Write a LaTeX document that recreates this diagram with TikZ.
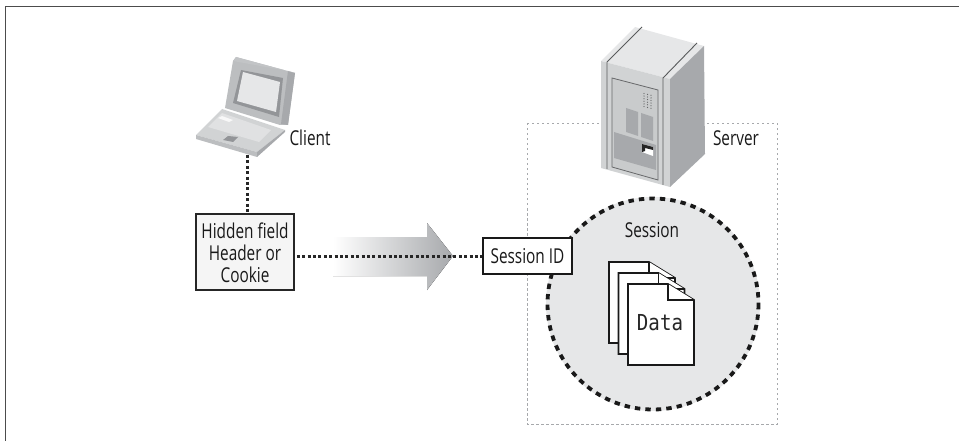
\documentclass[tikz,border=0pt]{standalone}
\usepackage{fontspec}
\setmainfont[FakeStretch=0.75]{Open Sans}
\newfontfamily\datafont[FakeStretch=0.87]{DejaVu Sans Mono}
\begin{document}
\begin{tikzpicture}[x=1pt,y=-1pt,
  lbl/.style={inner sep=0pt,font=\fontsize{20.5}{22}\selectfont,align=center,text=black!90},
  databl/.style={inner sep=0pt,font=\datafont\fontsize{22}{22}\selectfont,text=black!85},
  boxa/.style={draw=black!85,line width=1.6pt,fill=black!4,minimum width=98pt,minimum height=76pt,inner sep=0pt},
  boxb/.style={draw=black!90,line width=2.2pt,fill=white,minimum width=89pt,minimum height=36pt,inner sep=0pt},
  dots/.style={line width=3pt,black!85,dash pattern=on 3pt off 2.4pt},
  docpage/.style={draw=black!90,line width=1.7pt,fill=white,line join=miter}]
\useasboundingbox (0,0) rectangle (959,441);
\definecolor{g1}{HTML}{E6E7E8}
\definecolor{g2}{HTML}{D1D3D4}
\definecolor{g3}{HTML}{BCBEC0}
\definecolor{g4}{HTML}{A7A9AC}
\definecolor{g5}{HTML}{939598}
% frame
\draw[line width=1.2pt,black!70] (5.5,441) -- (5.5,6.5) -- (959,6.5);
% server dotted region
\draw[line width=.7pt,g4,dash pattern=on 2.5pt off 2.5pt] (527,123) rectangle (777,424);
% laptop
\fill[g3] (225,108) -- (233,61) -- (236,57) -- (295,73) -- (288,125) -- (280,125) -- cycle;
\fill[g4] (295,73) -- (288,125) -- (281,124) -- (288,71) -- cycle;
\fill[g3!70!g2] (233,61) -- (236,57) -- (295,73) -- (288,71) -- cycle;
\fill[g5] (241,70) -- (283,78) -- (279,117) -- (233,103) -- cycle;
\fill[g1] (243,72) -- (280,82) -- (276,112) -- (237,101) -- cycle;
\fill[g2] (196,135) -- (222,109) -- (285,130) -- (257,152) -- cycle;
\fill[g3] (196,135) -- (257,152) -- (257,157) -- (196,139) -- cycle;
\fill[g4] (257,152) -- (285,130) -- (285,132) -- (257,157) -- cycle;
\fill[g1!70!g2] (208,127) -- (222,113) -- (271,130) -- (259,142) -- cycle;
\fill[g1!30!white] (218,118) -- (222,116) -- (233,120) -- (229,122) -- cycle;
\fill[g5] (223,140) -- (228,136) -- (238,137) -- (233,142) -- cycle;
\coordinate (laptop) at (247.5,155);
% server
\fill[g1] (601,61) -- (635,27) -- (704,46) -- (670,79) -- cycle;
\fill[g2] (601,61) -- (670,79) -- (670,187) -- (601,168) -- cycle;
\fill[g4] (670,79) -- (704,46) -- (705,154) -- (670,187) -- cycle;
\fill[g3!40!g2] (612,78) -- (658,90) -- (658,180) -- (612,167) -- cycle;
\draw[line width=.8pt,g5!70!black] (612,78) -- (658,90) -- (658,180) -- (612,167) -- cycle;
\draw[line width=.9pt,g5!60!black] (642,27) -- (607,62) -- (607,169);
\draw[line width=.9pt,g5!60!black] (697,43) -- (663,78) -- (663,185);
\fill[g4] (614,132) -- (656,145) -- (656,170) -- (614,158) -- cycle;
\fill[g4] (626,108) -- (638,112) -- (638,136) -- (626,132) -- cycle;
\fill[g4] (641,113) -- (653,117) -- (653,141) -- (641,137) -- cycle;
\fill[white] (642,144) -- (653,147) -- (653,156) -- (642,152) -- cycle;
\fill[black!85] (642,144) -- (653,147) -- (653,150) -- (645,148) -- (645,151) -- (642,152) -- cycle;
\foreach \i in {0,1,2,3,4,5} \foreach \j in {0,1,2}
  \fill[g5!70!black] (644+3.5*\j,93.5+2.6*\i+0.9*\j) circle (.65);
% client and server labels
\node[lbl] (client) at (310,138) {Client};
\node[lbl] (server) at (736,138) {Server};
% arrow
\fill[left color=white,right color=g4,shading angle=90,draw=none]
  (333,237) -- (427,237) -- (427,223) -- (453,256) -- (427,290) -- (427,276) -- (333,276) -- cycle;
% session
\node[circle,fill=g1,minimum size=214pt,inner sep=0pt] (sessionarea) at (653,304) {};
\draw[black!90,line width=3.8pt,dash pattern=on 5.4pt off 5.1pt] (653,304) circle (105.5);
\node[lbl] (session) at (652,230) {Session};
% documents
\foreach \dx/\dy in {-19/-22,-9.5/-11,0/0} {
  \filldraw[docpage,shift={(\dx,\dy)}] (628,284) -- (668,284) -- (694,300) -- (694,365) -- (628,365) -- cycle;
  \draw[docpage,fill=white,shift={(\dx,\dy)}] (668,284) -- (668,300) -- (694,300);
}
\node[databl] (data) at (660,323) {Data};
% boxes
\node[boxa] (hidden) at (245,252) {};
\node[lbl] (hiddentext) at (245,253) {Hidden field\\Header or\\Cookie};
\node[boxb,lbl] (sessionid) at (527.5,256) {Session ID};
\draw[dots] (laptop) -- (laptop |- hidden.north);
\draw[dots,shorten <=2pt] (hidden.east |- sessionid.west) -- (sessionid.west);
\end{tikzpicture}
\end{document}
